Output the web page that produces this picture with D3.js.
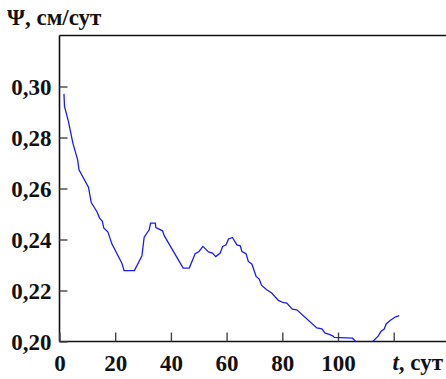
<!DOCTYPE html>
<html><head><meta charset="utf-8">
<script src="https://cdn.jsdelivr.net/npm/d3@7"></script>
<style>
html,body{margin:0;padding:0;background:#fff;}
svg{display:block;}
text{font-family:"Liberation Serif","Times New Roman",serif;font-weight:bold;fill:#111;}
</style></head><body>
<svg id="chart" width="446" height="379"></svg>
<script>
const tValues = [1.6,1.8,3.2,4.8,6.5,7.0,10.4,11.4,13.4,14.4,15.4,15.9,17.4,18.8,22.4,23.2,26.9,29.6,30.4,32.2,32.7,34.4,34.6,37.0,37.6,44.4,46.6,48.7,50.1,51.5,53.5,54.9,56.1,57.7,58.6,59.8,60.7,62.1,63.7,64.9,65.5,67.0,67.8,69.1,70.6,71.7,72.6,74.4,76.2,78.6,80.2,81.6,83.6,85.2,92.4,94.2,95.4,96.6,98.1,98.7,105.2,106.4,109.5,112.5,114.5,115.4,116.6,117.3,118.7,120.5,122.0];
const psiValues = [0.2971,0.2922,0.2863,0.2778,0.2713,0.2673,0.2605,0.2545,0.2510,0.2484,0.2471,0.2445,0.2429,0.2383,0.2307,0.2278,0.2278,0.2336,0.2409,0.2438,0.2464,0.2464,0.2447,0.2434,0.2415,0.2288,0.2288,0.2344,0.2353,0.2373,0.2351,0.2347,0.2333,0.2347,0.2373,0.2379,0.2402,0.2408,0.2379,0.2375,0.2353,0.2344,0.2314,0.2303,0.2255,0.2245,0.2220,0.2203,0.2190,0.2161,0.2153,0.2151,0.2127,0.2124,0.2053,0.2050,0.2033,0.2029,0.2022,0.2016,0.2013,0.2000,0.1985,0.2000,0.2022,0.2039,0.2049,0.2069,0.2082,0.2096,0.2101];
const xTicks = [0,20,40,60,80,100,120];
const xTickLabels = ["0","20","40","60","80","100",""];
const yTicks = [0.20,0.22,0.24,0.26,0.28,0.30];
const yTickLabels = ["0,20","0,22","0,24","0,26","0,28","0,30"];
const yTitle = "Ψ, см/сут";
const xTitleVar = "t";
const xTitleUnit = ", сут";

const svg = d3.select("#chart");
const L = 59.5, T = 35.5, B = 341.5, R = 446;
const FS = 23;
const x = d3.scaleLinear().domain([0,120]).range([L, 393.7]);
const y = d3.scaleLinear().domain([0.20,0.32]).range([B, T]);

svg.append("clipPath").attr("id","clip").append("rect")
  .attr("x",L).attr("y",T).attr("width",R-L).attr("height",B-T);

// frame: left, top, bottom
svg.append("line").attr("x1",L).attr("x2",L).attr("y1",T).attr("y2",B).attr("stroke","#111").attr("stroke-width",1.6);
svg.append("line").attr("x1",L).attr("x2",R).attr("y1",T).attr("y2",T).attr("stroke","#111").attr("stroke-width",1.6);
svg.append("line").attr("x1",L).attr("x2",R).attr("y1",B).attr("y2",B).attr("stroke","#111").attr("stroke-width",1.6);

// y ticks (inward)
const yAxis = d3.axisLeft(y).tickValues(yTicks).tickSize(-8).tickFormat((d,i)=>yTickLabels[i]);
const gy = svg.append("g").attr("transform",`translate(${L},0)`).call(yAxis);
gy.select(".domain").remove();
gy.selectAll(".tick line").attr("stroke","#444").attr("stroke-width",1.4);
gy.selectAll(".tick text").attr("font-size",FS).attr("font-family","Liberation Serif, serif").attr("font-weight","bold").attr("fill","#111").attr("dy","0.35em").attr("x",-8);

// x ticks (inward)
const xAxis = d3.axisBottom(x).tickValues(xTicks).tickSize(-9).tickFormat((d,i)=>xTickLabels[i]);
const gx = svg.append("g").attr("transform",`translate(0,${B})`).call(xAxis);
gx.select(".domain").remove();
gx.selectAll(".tick line").attr("stroke","#444").attr("stroke-width",1.4);
gx.selectAll(".tick text").attr("font-size",FS).attr("font-family","Liberation Serif, serif").attr("font-weight","bold").attr("fill","#111").attr("dy",0).attr("y",29);

// curve
const line = d3.line().x((d,i)=>x(tValues[i])).y(d=>y(d));
svg.append("path").datum(psiValues).attr("d",line).attr("fill","none")
  .attr("stroke","#1a1aff").attr("stroke-width",1.3).attr("clip-path","url(#clip)");

// titles
svg.append("text").attr("x",7).attr("y",25).attr("font-size",FS).text(yTitle);
const xt = svg.append("text").attr("x",443).attr("y",370).attr("text-anchor","end").attr("font-size",FS);
xt.append("tspan").attr("font-style","italic").text(xTitleVar);
xt.append("tspan").text(xTitleUnit);
</script>
</body></html>
